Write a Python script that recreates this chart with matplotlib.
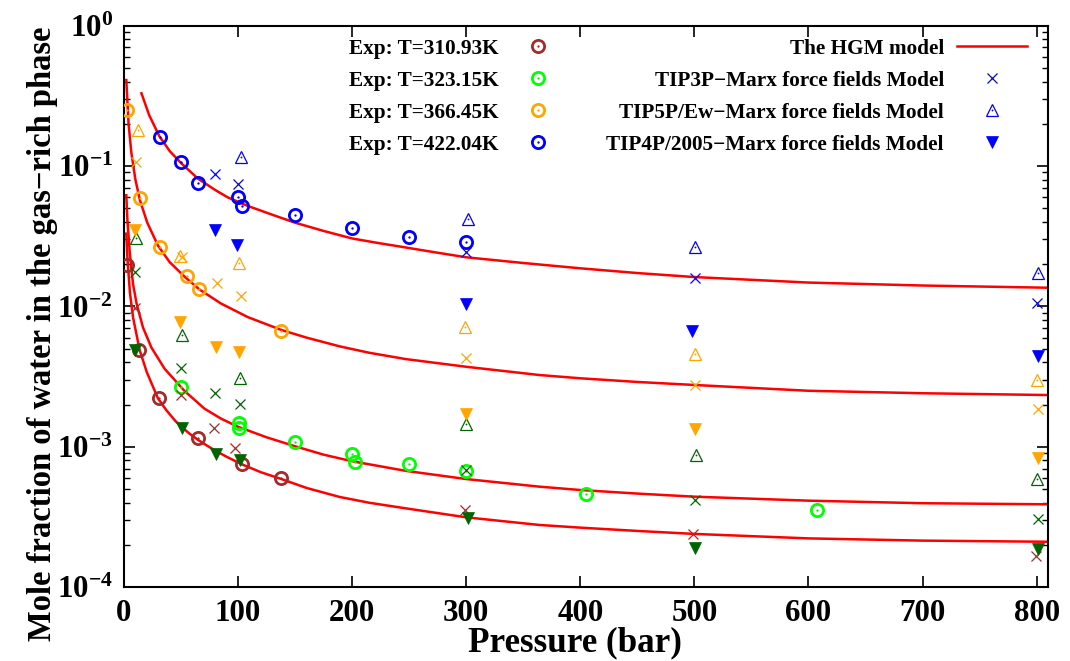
import matplotlib
matplotlib.use('Agg')
import matplotlib.pyplot as plt
from matplotlib.lines import Line2D
from matplotlib.legend_handler import HandlerTuple
from matplotlib.ticker import NullLocator, MultipleLocator, LogLocator

plt.rcParams['font.family'] = ['Liberation Serif', 'DejaVu Serif']
plt.rcParams['font.weight'] = 'bold'
plt.rcParams['mathtext.fontset'] = 'custom'
plt.rcParams['mathtext.rm'] = 'Liberation Serif:bold'
plt.rcParams['mathtext.bf'] = 'Liberation Serif:bold'
plt.rcParams['mathtext.it'] = 'Liberation Serif:bold:italic'

# ---------------- data ----------------
temps = ['310.93K', '323.15K', '366.45K', '422.04K']
exp_colors = ['#A52A2A', '#00FF00', '#FFA500', '#0000FF']
model_colors = ['#A52A2A', '#006400', '#FFA500', '#0000FF']

# Experimental data
exp_p_310 = [3.0, 13.5, 30.5, 65.0, 103.5, 137.6]
exp_y_310 = [0.0198, 0.0049, 0.00222, 0.00115, 0.000755, 0.000597]
exp_p_323 = [50.2, 100.6, 100.6, 149.9, 199.7, 202.7, 249.5, 300.1, 405.0, 607.4]
exp_y_323 = [0.00268, 0.00149, 0.00137, 0.00108, 0.00089, 0.000777, 0.000755, 0.000677, 0.000459, 0.000357]
exp_p_366 = [2.6, 14.0, 31.2, 55.4, 65.3, 138.0]
exp_y_366 = [0.251, 0.0596, 0.0267, 0.0165, 0.0133, 0.00669]
exp_p_422 = [31.2, 49.9, 65.2, 99.7, 103.5, 149.8, 199.7, 249.4, 300.1]
exp_y_422 = [0.160, 0.1075, 0.0762, 0.0605, 0.0520, 0.0446, 0.0364, 0.0314, 0.0288]

# TIP3P-Marx (x markers)
tip3p_p_310 = [10.0, 50.2, 78.7, 97.7, 299.2, 499.0, 799.0]
tip3p_y_310 = [0.00975, 0.00234, 0.00136, 0.000987, 0.000356, 0.000239, 0.000168]
tip3p_p_323 = [9.5, 49.6, 79.9, 101.5, 300.1, 500.4, 801.0]
tip3p_y_323 = [0.0176, 0.00363, 0.00241, 0.00201, 0.000685, 0.000418, 0.000306]
tip3p_p_366 = [10.5, 51.0, 81.4, 102.6, 300.1, 500.4, 801.0]
tip3p_y_366 = [0.107, 0.0225, 0.0146, 0.0119, 0.00432, 0.00276, 0.00186]
tip3p_p_422 = [79.9, 99.7, 300.1, 500.4, 800.3]
tip3p_y_422 = [0.0883, 0.0742, 0.0246, 0.0160, 0.01054]

# TIP5P/Ew-Marx (open triangles)
tip5p_p_323 = [10.2, 50.7, 102.1, 300.1, 501.7, 800.3]
tip5p_y_323 = [0.0305, 0.00627, 0.00308, 0.00146, 0.000880, 0.000588]
tip5p_p_366 = [12.3, 49.3, 100.9, 299.2, 500.4, 800.3]
tip5p_y_366 = [0.182, 0.0229, 0.0203, 0.00718, 0.00459, 0.00299]
tip5p_p_422 = [102.6, 301.9, 500.4, 801.0]
tip5p_y_422 = [0.1167, 0.0420, 0.0265, 0.0174]

# TIP4P/2005-Marx (filled down triangles)
tip4p_p_323 = [10.0, 50.4, 80.5, 101.5, 301.2, 500.4, 801.0]
tip4p_y_323 = [0.00493, 0.00136, 0.00089, 0.000807, 0.000310, 0.000190, 0.000188]
tip4p_p_366 = [9.9, 49.0, 80.5, 100.9, 299.7, 500.4, 801.0]
tip4p_y_366 = [0.0351, 0.00771, 0.00517, 0.00472, 0.00171, 0.00133, 0.000829]
tip4p_p_422 = [79.9, 99.1, 300.1, 497.5, 801.0]
tip4p_y_422 = [0.0351, 0.0275, 0.01047, 0.00669, 0.00446]

# HGM model curves
hgm_p_310 = [2.0, 3.0, 5.2, 8.0, 13.7, 20.0, 29.7, 37.0, 45.0, 50.0, 57.0, 65.0, 72.0, 80.0,
             90.0, 103.5, 120.0, 138.0, 160.0, 189.0, 215.0, 247.0, 300.0, 364.0, 400.0,
             450.0, 500.0, 600.0, 700.0, 810.0]
hgm_y_310 = [0.033, 0.022, 0.0125, 0.0083, 0.0049, 0.0034, 0.00222, 0.00183, 0.00153, 0.00140,
             0.00125, 0.00112, 0.00103, 0.00094, 0.00085, 0.00075, 0.00066, 0.00059, 0.00051,
             0.00044, 0.00040, 0.000365, 0.000315, 0.000278, 0.000266, 0.000252, 0.000240,
             0.000223, 0.000215, 0.000211]
hgm_p_323 = [2.0, 3.0, 5.0, 7.9, 11.0, 16.6, 24.0, 35.6, 53.1, 70.6, 85.0, 100.0, 125.0,
             150.0, 175.0, 200.0, 247.0, 300.0, 364.0, 400.0, 450.0, 500.0, 600.0, 700.0, 810.0]
hgm_y_323 = [0.062, 0.041, 0.0245, 0.0145, 0.0105, 0.0071, 0.0051, 0.0036, 0.0025, 0.00187,
             0.00159, 0.00139, 0.00117, 0.00101, 0.00088, 0.00079, 0.000675, 0.00059,
             0.000521, 0.000493, 0.000465, 0.000442, 0.000414, 0.000397, 0.000390]
hgm_p_366 = [2.0, 4.0, 6.4, 10.0, 14.0, 20.4, 29.7, 40.0, 53.1, 66.2, 85.0, 108.5, 138.0,
             160.0, 189.0, 215.0, 247.0, 300.0, 364.0, 400.0, 450.0, 500.0, 600.0, 700.0, 810.0]
hgm_y_366 = [0.41, 0.20, 0.125, 0.080, 0.057, 0.0395, 0.0272, 0.0207, 0.0163, 0.0132, 0.0105,
             0.0084, 0.0068, 0.0060, 0.0052, 0.00468, 0.00422, 0.00372, 0.00325, 0.00308,
             0.00290, 0.00276, 0.00251, 0.00241, 0.00234]
hgm_p_422 = [15.3, 22.0, 31.0, 40.0, 50.0, 64.7, 80.0, 91.0, 108.5, 130.0, 150.0, 175.0,
             200.0, 224.0, 241.0, 270.0, 300.0, 350.0, 400.0, 450.0, 500.0, 600.0, 700.0, 810.0]
hgm_y_422 = [0.33, 0.231, 0.163, 0.128, 0.105, 0.0815, 0.0675, 0.0598, 0.0520, 0.0450, 0.0395,
             0.0345, 0.0305, 0.0282, 0.0268, 0.0245, 0.0224, 0.0204, 0.0187, 0.0173, 0.0162,
             0.0148, 0.0141, 0.0136]

hgm_color = '#FF0000'

# ---------------- figure ----------------
fig = plt.figure(figsize=(10.7, 6.61), dpi=100)
ax = fig.add_axes([0.1159, 0.1115, 0.8636, 0.8497])
ax.set_yscale('log')
ax.set_xlim(0, 810)
ax.set_ylim(1e-4, 1)

for p, y in [(hgm_p_310, hgm_y_310), (hgm_p_323, hgm_y_323),
             (hgm_p_366, hgm_y_366), (hgm_p_422, hgm_y_422)]:
    ax.plot(p, y, color=hgm_color, lw=1.8, zorder=2, solid_joinstyle='round')

exp_sets = [(exp_p_310, exp_y_310), (exp_p_323, exp_y_323),
            (exp_p_366, exp_y_366), (exp_p_422, exp_y_422)]
for (p, y), c in zip(exp_sets, exp_colors):
    ax.plot(p, y, ls='none', marker='o', ms=8.8, mfc='none', mec=c, mew=2.0, zorder=3)
    ax.plot(p, y, ls='none', marker='o', ms=1.3, mfc=c, mec=c, mew=0.3, zorder=3)

tip3p_sets = [(tip3p_p_310, tip3p_y_310), (tip3p_p_323, tip3p_y_323),
              (tip3p_p_366, tip3p_y_366), (tip3p_p_422, tip3p_y_422)]
for (p, y), c in zip(tip3p_sets, model_colors):
    ax.plot(p, y, ls='none', marker='x', ms=7.5, mec=c, mew=0.9, zorder=3)

tip5p_sets = [(tip5p_p_323, tip5p_y_323), (tip5p_p_366, tip5p_y_366), (tip5p_p_422, tip5p_y_422)]
for (p, y), c in zip(tip5p_sets, model_colors[1:]):
    ax.plot(p, y, ls='none', marker='^', ms=9, mfc='none', mec=c, mew=0.9, zorder=3)
    ax.plot(p, y, ls='none', marker='o', ms=1.0, mfc=c, mec=c, mew=0.2, zorder=3)

tip4p_sets = [(tip4p_p_323, tip4p_y_323), (tip4p_p_366, tip4p_y_366), (tip4p_p_422, tip4p_y_422)]
for (p, y), c in zip(tip4p_sets, model_colors[1:]):
    ax.plot(p, y, ls='none', marker='v', ms=8, mfc=c, mec=c, mew=0.5, zorder=3)

# axes styling
ax.xaxis.set_major_locator(MultipleLocator(100))
ax.xaxis.set_minor_locator(NullLocator())
ax.yaxis.set_major_locator(LogLocator(base=10, numticks=10))
ax.yaxis.set_minor_locator(LogLocator(base=10, subs=range(2, 10), numticks=20))
ax.tick_params(which='both', direction='in', top=True, right=True)
ax.tick_params(which='major', length=8, width=1.2, labelsize=22.3)
ax.tick_params(which='minor', length=4.5, width=1.0)
ax.tick_params(axis='x', which='major', pad=8.3)
ax.tick_params(axis='y', which='major', pad=8)
for s in ax.spines.values():
    s.set_linewidth(1.5)

ax.set_xlabel('Pressure (bar)', fontsize=25.2, fontweight='bold')
ax.set_ylabel('Mole fraction of water in the gas\u2212rich phase', fontsize=23.5, fontweight='bold')
ax.xaxis.set_label_coords(0.488, -0.07)
ax.yaxis.set_label_coords(-0.071, 0.452)

# legends
exp_labels = ['Exp: T=' + t for t in temps]
exp_handles = []
for c in exp_colors:
    h1 = Line2D([], [], ls='none', marker='o', ms=8.8, mfc='none', mec=c, mew=2.0)
    h2 = Line2D([], [], ls='none', marker='o', ms=1.3, mfc=c, mec=c, mew=0.3)
    exp_handles.append((h1, h2))
leg1 = ax.legend(exp_handles, exp_labels, handler_map={tuple: HandlerTuple(ndivide=1)},
                 loc='upper right', bbox_to_anchor=(0.471, 0.977), markerfirst=False,
                 frameon=False, fontsize=15.3, handlelength=2.0, handletextpad=0.85,
                 labelspacing=0.57, borderpad=0, borderaxespad=0)
ax.add_artist(leg1)

model_labels = ['The HGM model', 'TIP3P\u2212Marx force fields Model',
                'TIP5P/Ew\u2212Marx force fields Model', 'TIP4P/2005\u2212Marx force fields Model']
mh = [Line2D([], [], color=hgm_color, lw=1.8),
      Line2D([], [], ls='none', marker='x', ms=7.5, mec='#0000FF', mew=0.9),
      (Line2D([], [], ls='none', marker='^', ms=9, mfc='none', mec='#0000FF', mew=0.9),
       Line2D([], [], ls='none', marker='o', ms=1.0, mfc='#0000FF', mec='#0000FF', mew=0.2)),
      Line2D([], [], ls='none', marker='v', ms=8, mfc='#0000FF', mec='#0000FF', mew=0.5)]
leg2 = ax.legend(mh, model_labels, handler_map={tuple: HandlerTuple(ndivide=1)},
                 loc='upper right', bbox_to_anchor=(0.977, 0.977), markerfirst=False,
                 frameon=False, fontsize=15.3, handlelength=3.3, handletextpad=0.6,
                 labelspacing=0.57, borderpad=0, borderaxespad=0)

fig.savefig('out.png', dpi=100)
